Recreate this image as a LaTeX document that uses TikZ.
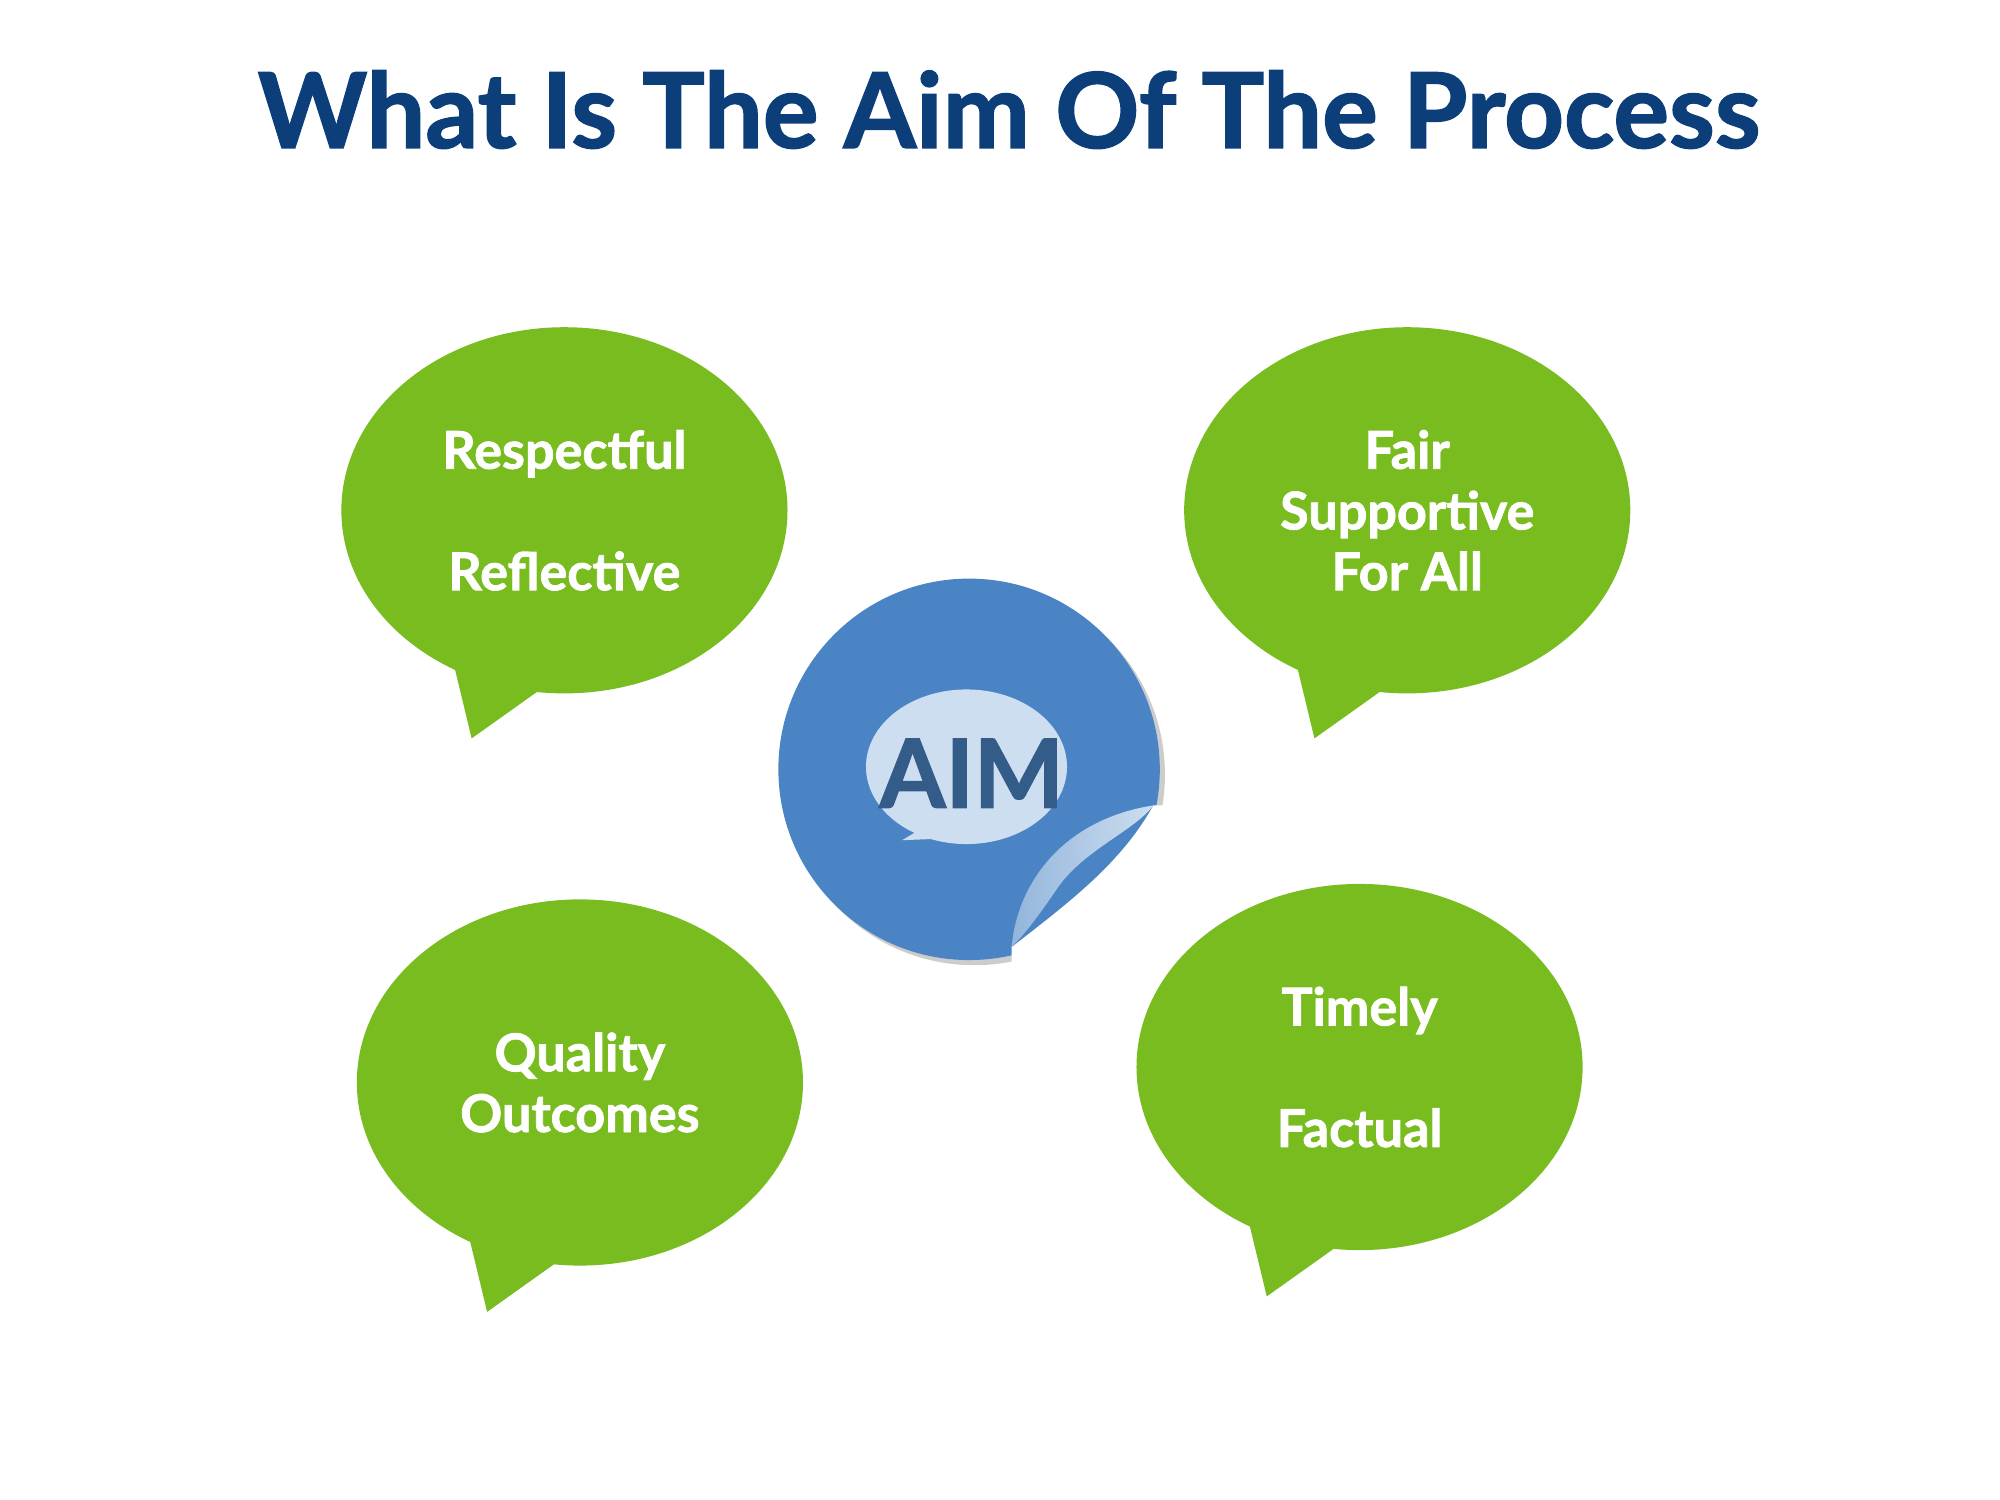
\documentclass[tikz,border=0pt]{standalone}
\usepackage{fontspec}
\setmainfont{Lato}[BoldFeatures={FakeBold=1.5}]
\usetikzlibrary{shapes.geometric}
\definecolor{bubblegreen}{RGB}{120,188,32}
\definecolor{titleblue}{RGB}{12,62,122}
\definecolor{aimblue}{RGB}{74,132,196}
\definecolor{aimlight}{RGB}{205,222,240}
\tikzset{
  bubble/.style={ellipse,fill=bubblegreen,minimum width=3.46cm,minimum height=2.84cm,
    text=white,font=\bfseries\fontsize{11.5}{13.4}\selectfont,align=center,inner sep=0pt},
  tail/.style={fill=bubblegreen}
}
\begin{document}
\begin{tikzpicture}[x=0.01cm,y=-0.01cm]
\useasboundingbox (0,0) rectangle (1552,1164);

\node[text=titleblue,font=\bfseries\fontsize{23}{26}\selectfont] (title) at (783,85) {What Is The Aim Of The Process};

% speech bubbles
\fill[tail] (352,515) -- (366,573) -- (418,536) -- cycle;
\node[bubble] (resp) at (438,396) {Respectful\\[\baselineskip]Reflective};

\fill[tail] (1006,515) -- (1020,573) -- (1072,536) -- cycle;
\node[bubble] (fair) at (1092,396) {Fair\\Supportive\\For All};

\fill[tail] (364,960) -- (378,1018) -- (430,981) -- cycle;
\node[bubble] (qual) at (450,840) {Quality\\Outcomes};

\fill[tail] (969,948) -- (983,1006) -- (1035,969) -- cycle;
\node[bubble] (time) at (1055,828) {Timely\\[\baselineskip]Factual};

% sticker
\fill[black!20] (756,601) circle (148);
\fill[aimblue] (752,597) circle (148);
\fill[aimlight] (750,595) ellipse (78 and 60);
\fill[aimlight] (720,640) -- (700,652) -- (750,650) -- cycle;
\node[text=aimblue!70!black,font=\bfseries\fontsize{21}{24}\selectfont] (aim) at (754,600) {AIM};
\begin{scope}
\clip (756,601) circle (150);
\fill[white] (785,735) .. controls (830,700) and (870,670) .. (895,625) -- (920,625) -- (920,760) -- (785,760) -- cycle;
\end{scope}
\shade[left color=aimblue!60,right color=aimlight] (785,735) .. controls (790,680) and (830,635) .. (895,625)
  .. controls (880,645) and (840,660) .. (820,690) .. controls (805,712) and (795,725) .. cycle;
\end{tikzpicture}
\end{document}
